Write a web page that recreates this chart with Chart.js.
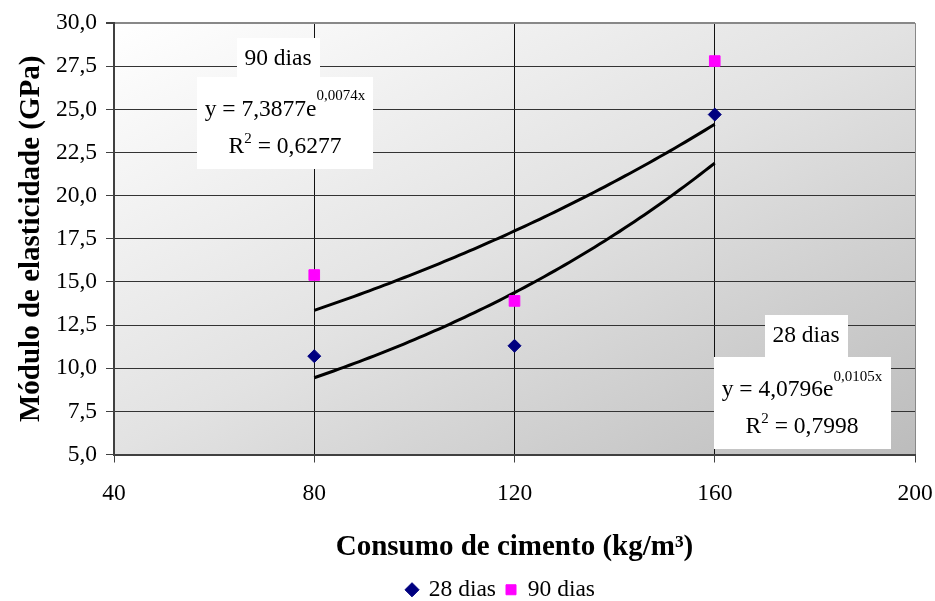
<!DOCTYPE html>
<html>
<head>
<meta charset="utf-8">
<script src="https://cdn.jsdelivr.net/npm/chart.js@4/dist/chart.umd.min.js"></script>
<style>
  html, body { margin: 0; padding: 0; background: #fff; }
  #wrap { width: 935px; height: 601px; }
</style>
</head>
<body>
<div id="wrap"><canvas id="chart" width="935" height="601"></canvas></div>
<script>
// Módulo de elasticidade x consumo de cimento
const consumo = [80, 120, 160];
const modulo28 = [10.7, 11.3, 24.7];
const modulo90 = [15.4, 13.9, 27.8];

// exponential trend y = a * e^(b x)  ->  [a, b]
const trend28 = [4.0796, 0.0105];
const trend90 = [7.3877, 0.0074];
const r2_28 = '0,7998';
const r2_90 = '0,6277';
const trendFrom = 80;
const trendTo = 160;

const FONT = '"Liberation Serif", "Times New Roman", serif';
const TXT = 23.5;   // regular text size
const SUP = 15;     // superscripts

function fmt(v) {
    return String(v).replace('.', ',');
}

// points of the trend curve, straight from its equation
function trendCurve(coef) {
    const pts = [];
    for (let x = trendFrom; x <= trendTo; x += 1) {
        pts.push({ x: x, y: coef[0] * Math.exp(coef[1] * x) });
    }
    return pts;
}

// diagonal grey gradient behind the plot
const plotBackground = {
    id: 'plotBackground',
    beforeDraw(chart) {
        const { ctx, chartArea: a } = chart;
        const w = a.right - a.left, h = a.bottom - a.top;
        const k = 2 * w * h / (w * w + h * h);
        const g = ctx.createLinearGradient(a.left, a.top, a.left + h * k, a.top + w * k);
        g.addColorStop(0, '#ffffff');
        g.addColorStop(0.5, '#e2e2e2');
        g.addColorStop(1, '#bcbcbc');
        ctx.save();
        ctx.fillStyle = g;
        ctx.fillRect(a.left, a.top, w, h);
        ctx.restore();
    }
};

// legend sits a little left of the plot centre
const legendPlace = {
    id: 'legendPlace',
    afterLayout(chart) {
        const l = chart.legend;
        const w = l.right - l.left, h = l.bottom - l.top;
        l.left = 501 - w / 2;
        l.right = 501 + w / 2;
        l.top = 568;
        l.bottom = 568 + h;
    }
};

function box(ctx, x0, y0, x1, y1) {
    ctx.fillStyle = '#ffffff';
    ctx.fillRect(x0, y0, x1 - x0, y1 - y0);
}

function equation(ctx, cx, y, coef, r2, supRise) {
    const main = 'y = ' + fmt(coef[0]) + 'e';
    const sup = fmt(coef[1]) + 'x';
    ctx.font = TXT + 'px ' + FONT;
    const wMain = ctx.measureText(main).width;
    ctx.font = SUP + 'px ' + FONT;
    const wSup = ctx.measureText(sup).width;
    let x = cx - (wMain + wSup) / 2;
    ctx.fillStyle = '#000';
    ctx.textAlign = 'left';
    ctx.font = TXT + 'px ' + FONT;
    ctx.fillText(main, x, y);
    ctx.font = SUP + 'px ' + FONT;
    ctx.fillText(sup, x + wMain, y - supRise);

    // R² line
    const y2 = y + 37;
    const rest = ' = ' + r2;
    ctx.font = TXT + 'px ' + FONT;
    const wR = ctx.measureText('R').width;
    const wRest = ctx.measureText(rest).width;
    ctx.font = SUP + 'px ' + FONT;
    const w2 = ctx.measureText('2').width;
    x = cx - (wR + w2 + wRest) / 2;
    ctx.font = TXT + 'px ' + FONT;
    ctx.fillText('R', x, y2);
    ctx.fillText(rest, x + wR + w2, y2);
    ctx.font = SUP + 'px ' + FONT;
    ctx.fillText('2', x + wR, y2 - 10);
}

// trend labels in white boxes
const trendLabels = {
    id: 'trendLabels',
    afterDatasetsDraw(chart) {
        const ctx = chart.ctx;
        ctx.save();
        ctx.textBaseline = 'alphabetic';

        box(ctx, 237, 38, 320, 77);
        box(ctx, 197, 77, 373, 169);
        ctx.fillStyle = '#000';
        ctx.textAlign = 'center';
        ctx.font = TXT + 'px ' + FONT;
        ctx.fillText('90 dias', 278, 65);
        equation(ctx, 285, 116, trend90, r2_90, 16);

        box(ctx, 765, 315, 848, 357);
        box(ctx, 714, 357, 891, 449);
        ctx.fillStyle = '#000';
        ctx.textAlign = 'center';
        ctx.font = TXT + 'px ' + FONT;
        ctx.fillText('28 dias', 806, 342);
        equation(ctx, 802, 396, trend28, r2_28, 15);
        ctx.restore();
    }
};

const ctx = document.getElementById('chart');

new Chart(ctx, {
    type: 'scatter',
    data: {
        datasets: [
            {
                label: '28 dias',
                data: consumo.map((x, i) => ({ x: x, y: modulo28[i] })),
                pointStyle: 'rectRot',
                pointRadius: 6.5,
                backgroundColor: '#000080',
                borderColor: '#000080',
                borderWidth: 1
            },
            {
                label: '90 dias',
                data: consumo.map((x, i) => ({ x: x, y: modulo90[i] })),
                pointStyle: 'rect',
                pointRadius: 7.5,
                backgroundColor: '#ff00ff',
                borderColor: '#ff00ff',
                borderWidth: 1
            },
            {
                label: 'Exp. (28 dias)',
                data: trendCurve(trend28),
                showLine: true,
                borderColor: '#000',
                borderWidth: 3,
                pointRadius: 0,
                tension: 0
            },
            {
                label: 'Exp. (90 dias)',
                data: trendCurve(trend90),
                showLine: true,
                borderColor: '#000',
                borderWidth: 3,
                pointRadius: 0,
                tension: 0
            }
        ]
    },
    options: {
        responsive: false,
        animation: false,
        layout: { padding: { top: 23, right: 20, left: 0, bottom: 0 } },
        scales: {
            x: {
                type: 'linear',
                min: 40,
                max: 200,
                ticks: {
                    stepSize: 40,
                    autoSkip: false,
                    maxRotation: 0,
                    color: '#000',
                    padding: 17,
                    font: { family: FONT, size: TXT }
                },
                grid: {
                    color: c => (c.tick && c.tick.value === 200 ? '#888' : '#111'),
                    lineWidth: 1,
                    tickLength: 8,
                    tickColor: '#404040'
                },
                border: { color: '#404040', width: 2 },
                title: {
                    display: true,
                    text: 'Consumo de cimento (kg/m³)',
                    color: '#000',
                    padding: 0,
                    font: { family: FONT, size: 29, weight: 'bold', lineHeight: 0.7 }
                },
                afterFit(scale) {
                    scale.height = 103;
                    scale.paddingLeft = 0;
                    scale.paddingRight = 0;
                }
            },
            y: {
                min: 5,
                max: 30,
                ticks: {
                    stepSize: 2.5,
                    autoSkip: false,
                    color: '#000',
                    padding: 9,
                    font: { family: FONT, size: TXT },
                    callback: v => v.toFixed(1).replace('.', ',')
                },
                grid: {
                    color: c => (c.tick && c.tick.value === 30 ? '#888' : '#333'),
                    lineWidth: c => (c.tick && c.tick.value === 30 ? 2 : 1),
                    tickLength: 8,
                    tickColor: '#404040'
                },
                border: { color: '#404040', width: 2 },
                title: {
                    display: true,
                    text: 'Módulo de elasticidade (GPa)',
                    color: '#000',
                    padding: { top: 17, bottom: 0 },
                    font: { family: FONT, size: 29, weight: 'bold', lineHeight: 1 }
                },
                afterFit(scale) { scale.width = 114; }
            }
        },
        plugins: {
            legend: {
                position: 'bottom',
                labels: {
                    usePointStyle: true,
                    boxWidth: 10,
                    boxHeight: 10,
                    padding: 10,
                    color: '#000',
                    font: { family: FONT, size: TXT },
                    filter: item => item.datasetIndex < 2
                }
            },
            tooltip: { enabled: false }
        }
    },
    plugins: [plotBackground, legendPlace, trendLabels]
});
</script>
</body>
</html>
